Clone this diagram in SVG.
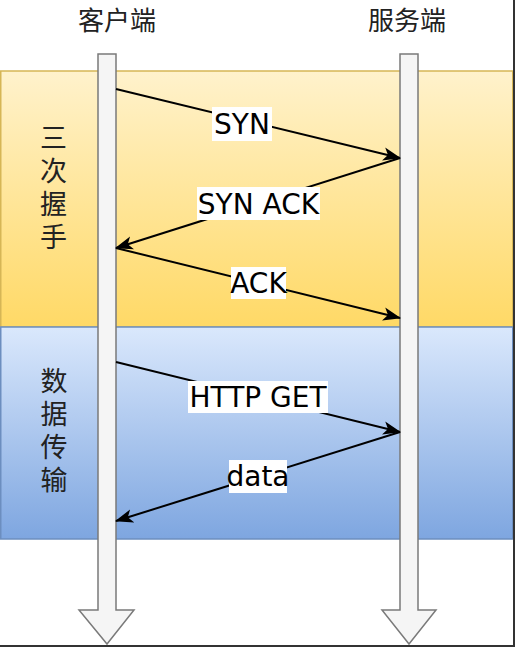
<svg xmlns="http://www.w3.org/2000/svg" width="515" height="647" viewBox="0 0 515 647">
  <style>
    .cjk { font-family: "Noto Sans CJK SC", "Noto Sans", sans-serif; fill: #222; text-anchor: middle; }
    .hdr { font-size: 26px; }
    .side { font-size: 27px; writing-mode: vertical-rl; letter-spacing: 6px; }
    .lbl { font-family: "DejaVu Sans", "Liberation Sans", sans-serif; font-size: 28px; fill: #000; text-anchor: middle; }
    .lblbg { fill: #ffffff; stroke: none; }
    .msg { stroke: #000; stroke-width: 2; fill: none; marker-end: url(#arr); }
    .life { fill: #f5f5f5; stroke: #7a7a7a; stroke-width: 1.5; }
  </style>
  <defs>
    <linearGradient id="gy" x1="0" y1="0" x2="0" y2="1">
      <stop offset="0" stop-color="#fff2cc"/>
      <stop offset="1" stop-color="#ffd966"/>
    </linearGradient>
    <linearGradient id="gb" x1="0" y1="0" x2="0" y2="1">
      <stop offset="0" stop-color="#dae8fc"/>
      <stop offset="1" stop-color="#7ea6e0"/>
    </linearGradient>
    <marker id="arr" markerUnits="userSpaceOnUse" markerWidth="18" markerHeight="14" viewBox="0 0 16 12" refX="15" refY="6" orient="auto">
      <path d="M0,0 L16,6 L0,12 L4,6 Z" fill="#000"/>
    </marker>
  </defs>

  <rect x="0" y="0" width="515" height="647" fill="#ffffff"/>

  <g id="band-handshake">
    <rect x="0.75" y="71" width="512" height="256" fill="url(#gy)" stroke="#d6b656" stroke-width="1.5"/>
    <text class="cjk side" x="53.5" y="190">三次握手</text>
  </g>
  <g id="band-data">
    <rect x="0.75" y="327" width="512" height="212" fill="url(#gb)" stroke="#6c8ebf" stroke-width="1.5"/>
    <text class="cjk side" x="54" y="433">数据传输</text>
  </g>

  <g id="client">
    <text class="cjk hdr" x="117" y="30">客户端</text>
    <polygon class="life" points="98,54 116,54 116,610 134,610 107,644 79,610 98,610"/>
  </g>
  <g id="server">
    <text class="cjk hdr" x="407" y="30">服务端</text>
    <polygon class="life" points="400,54 418,54 418,610 436,610 409,644 382,610 400,610"/>
  </g>

  <g id="connectors">
    <line class="msg" x1="116" y1="89" x2="400" y2="158"/>
    <line class="msg" x1="400" y1="158" x2="116" y2="248"/>
    <line class="msg" x1="116" y1="248" x2="400" y2="318"/>
    <line class="msg" x1="116" y1="362" x2="400" y2="432"/>
    <line class="msg" x1="400" y1="432" x2="116" y2="521"/>

    <rect class="lblbg" x="212" y="107" width="60" height="34"/>
    <text class="lbl" x="242" y="134">SYN</text>
    <rect class="lblbg" x="197" y="187" width="123" height="33"/>
    <text class="lbl" x="258.5" y="214">SYN ACK</text>
    <rect class="lblbg" x="231" y="267" width="55" height="32"/>
    <text class="lbl" x="258.5" y="293">ACK</text>
    <rect class="lblbg" x="188" y="381" width="140" height="32"/>
    <text class="lbl" x="258" y="407">HTTP GET</text>
    <rect class="lblbg" x="229" y="460" width="58" height="33"/>
    <text class="lbl" x="258" y="486">data</text>
  </g>

  <g id="frame">
    <line x1="514" y1="0" x2="514" y2="647" stroke="#333" stroke-width="2"/>
    <line x1="0" y1="646" x2="515" y2="646" stroke="#333" stroke-width="2"/>
  </g>
</svg>
